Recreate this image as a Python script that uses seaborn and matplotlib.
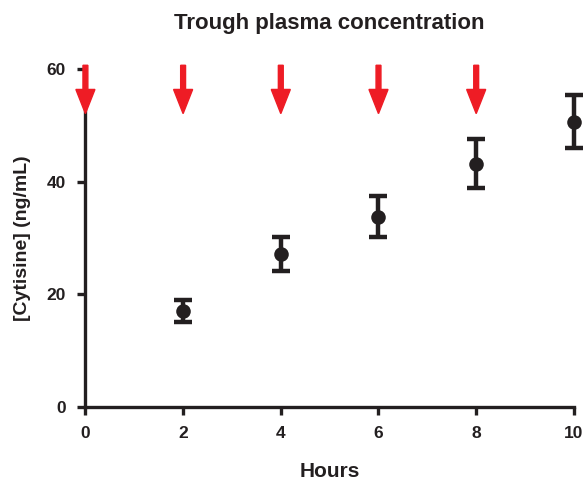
import numpy as np
import matplotlib
matplotlib.use("Agg")
import matplotlib.pyplot as plt
import seaborn as sns

# Trough plasma concentration data (mean +/- error)
hours = [2, 4, 6, 8, 10]
conc = [17.0, 27.1, 33.8, 43.2, 50.7]
err = [1.9, 3.0, 3.6, 4.4, 4.7]

# dosing times (red arrows)
dose_times = [0, 2, 4, 6, 8]

x_ticks = [0, 2, 4, 6, 8, 10]
y_ticks = [0, 20, 40, 60]

sns.set_style("ticks")
plt.rcParams['font.family'] = ['Liberation Sans', 'DejaVu Sans']
plt.rcParams['font.weight'] = 'bold'

fig = plt.figure(figsize=(5.85, 4.84), dpi=100)
ax = fig.add_axes([0.146, 0.160, 0.835, 0.697])

dark = '#231f20'
ax.errorbar(hours, conc, yerr=err, fmt='none', ecolor=dark,
            elinewidth=3.2, capsize=6.5, capthick=3.2, clip_on=False, zorder=3)
sns.scatterplot(x=hours, y=conc, ax=ax, color=dark, s=110, edgecolor=dark,
                linewidth=0, clip_on=False, zorder=4)

for t in dose_times:
    ax.arrow(t, 60.7, 0, -8.6, width=0.1, head_width=0.39, head_length=4.3,
             length_includes_head=True, color='#ee1c25', clip_on=False, zorder=5)

ax.set_xlim(0, 10)
ax.set_ylim(0, 60)
ax.set_xticks(x_ticks)
ax.set_yticks(y_ticks)
sns.despine(ax=ax)
for s in ['left', 'bottom']:
    ax.spines[s].set_linewidth(2.4)
    ax.spines[s].set_color(dark)
ax.tick_params(width=2.4, length=6, color=dark, labelsize=12.5, labelcolor=dark, pad=8)
for lab in ax.get_xticklabels() + ax.get_yticklabels():
    lab.set_fontweight('bold')

ax.set_xlabel('Hours', fontsize=15, fontweight='bold', color=dark, labelpad=15)
ax.set_ylabel('[Cytisine] (ng/mL)', fontsize=14, fontweight='bold', color=dark, labelpad=11)
ax.set_title('Trough plasma concentration', fontsize=16, fontweight='bold', color=dark, pad=29)

fig.savefig('out.png', dpi=100)
